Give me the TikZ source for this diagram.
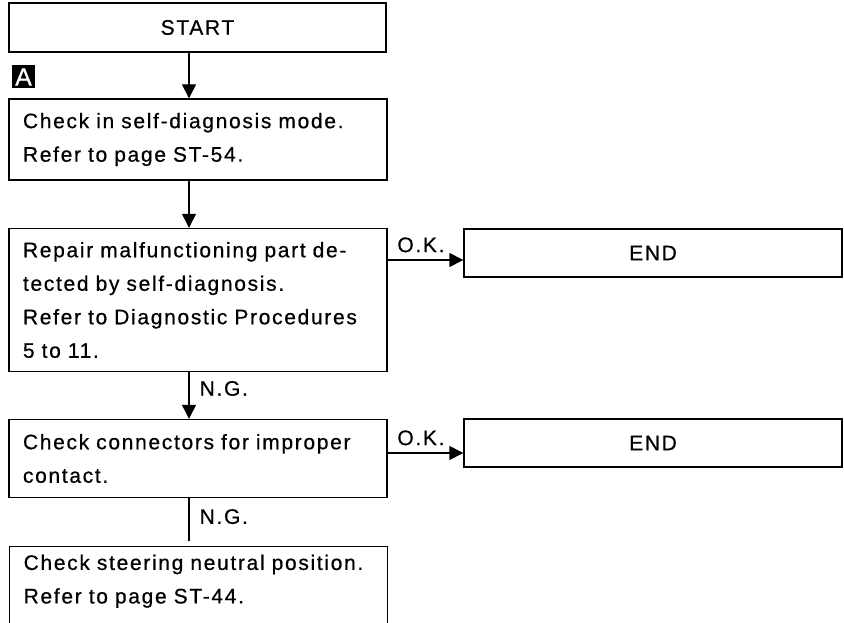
\documentclass[tikz,border=0pt]{standalone}
\usepackage{fontspec}
\setmainfont{Liberation Sans}[LetterSpace=8, FakeBold=0.6]
\usetikzlibrary{arrows.meta, positioning}
\newcommand{\cajafont}{\fontsize{21}{33.5}\selectfont}

\begin{document}
\begin{tikzpicture}[x=1pt, y=-1pt,
	caja/.style={draw, line width=1.4pt, minimum width=378pt, text width=350pt, inner xsep=14pt, align=left, font=\cajafont},
	fin/.style={draw, line width=1.4pt, minimum width=378pt, minimum height=48pt, inner sep=0pt, font=\cajafont},
	marca/.style={fill=black, text=white, minimum size=23pt, inner sep=0pt, font=\fontsize{25}{25}\selectfont},
	flecha/.style={line width=1.4pt, -{Triangle[length=14pt,width=14pt]}},
	linea/.style={line width=1.4pt},
	ng/.style={anchor=west, inner sep=0pt, xshift=10pt, font=\cajafont},
	ok/.style={anchor=south west, inner sep=0pt, xshift=9pt, yshift=7pt, font=\cajafont}]
	\useasboundingbox (0,0) rectangle (844,623);
	\clip (0,0) rectangle (844,623);
	% cajas
	\node[fin, minimum width=377pt, minimum height=49pt] (start) at (197.5,27.5) {START};
	\node[marca] (tagA) at (23.5,77) {A};
	\node[caja, minimum height=81pt] (chk) at (198,139.5) {Check in self-diagnosis mode.\\Refer to page ST-54.};
	\node[caja, minimum height=143pt] (rep) at (198,300) {Repair malfunctioning part de-\\tected by self-diagnosis.\\Refer to Diagnostic Procedures\\5 to 11.};
	\node[fin] (end1) at (653,253) {END};
	\node[caja, minimum height=78pt] (con) at (198,458.5) {Check connectors for improper\\contact.};
	\node[fin] (end2) at (653,443) {END};
	\node[caja, anchor=north west, inner ysep=8pt, text depth=90pt] (ntr) at (9,546) {Check steering neutral position.\\Refer to page ST-44.};
	% flechas
	\coordinate (eje) at (189,0);
	\draw[flecha] (start.south -| eje) -- (chk.north -| eje);
	\draw[flecha] (chk.south -| eje) -- (rep.north -| eje);
	\draw[flecha] (rep.south -| eje) -- node[ng, pos=0.35] {N.G.} (con.north -| eje);
	\draw[linea] (con.south -| eje) -- node[ng, pos=0.43] {N.G.} ([yshift=5pt]ntr.north -| eje);
	\draw[flecha] ([yshift=-7pt]end1.west -| rep.east) -- node[ok, pos=0] {O.K.} ([yshift=-7pt]end1.west);
	\draw[flecha] ([yshift=-10pt]end2.west -| con.east) -- node[ok, pos=0] {O.K.} ([yshift=-10pt]end2.west);
\end{tikzpicture}
\end{document}
